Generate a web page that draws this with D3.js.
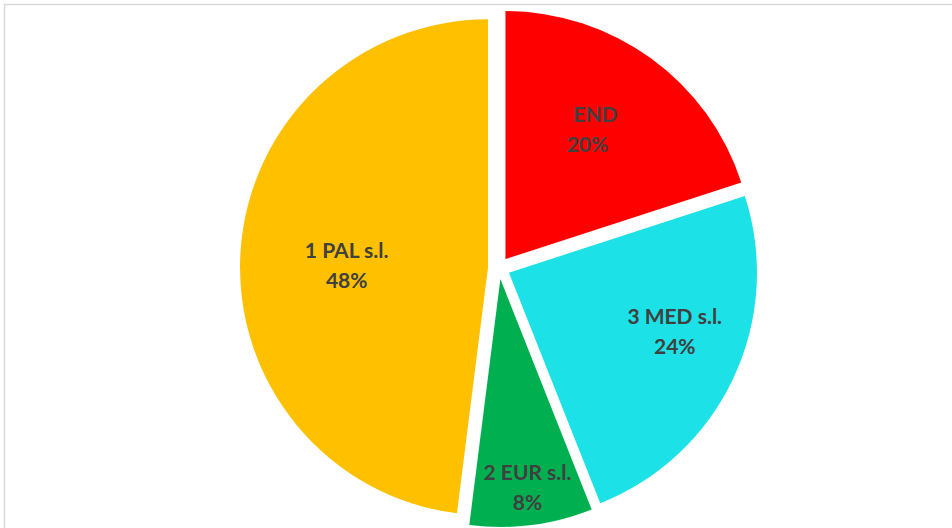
<!DOCTYPE html>
<html>
<head>
<meta charset="utf-8">
<script src="https://cdn.jsdelivr.net/npm/d3@7"></script>
<style>
  html, body { margin: 0; padding: 0; background: #ffffff; }
  svg { display: block; }
</style>
</head>
<body>
<svg id="chart" width="952" height="528"></svg>
<script>
// Slice data, clockwise from 12 o'clock
const categories = ["END", "3 MED s.l.", "2 EUR s.l.", "1 PAL s.l."];
const shares = [20, 24, 8, 48];
const colors = ["#FF0000", "#1CE1E6", "#00B050", "#FFC000"];

const width = 952, height = 528;
const cx = 499, cy = 268, radius = 248;
const explode = 11;

// label placement: angle offset from the slice bisector (deg), radius fraction,
// and horizontal nudge of the name line
const labelPlacement = [
  { dAngle: -3.5, frac: 0.615, nameDx: 8 },
  { dAngle: -5.5, frac: 0.71, nameDx: 0 },
  { dAngle: -0.2, frac: 0.85, nameDx: 0 },
  { dAngle: -3.2, frac: 0.57, nameDx: 0 }
];

const svg = d3.select("#chart");

// chart area frame
svg.append("rect")
  .attr("x", 4.5).attr("y", 4.5)
  .attr("width", width + 10).attr("height", height + 10)
  .attr("fill", "#ffffff")
  .attr("stroke", "#d9d9d9")
  .attr("stroke-width", 1.5);

const data = categories.map((c, i) => ({ name: c, value: shares[i], color: colors[i], idx: i }));

const pie = d3.pie().value(d => d.value).sort(null);
const arc = d3.arc().innerRadius(0).outerRadius(radius);
const arcs = pie(data);

const g = svg.append("g").attr("transform", `translate(${cx},${cy})`);

const slices = g.selectAll("g.slice")
  .data(arcs)
  .join("g")
  .attr("class", "slice")
  .attr("transform", d => {
    const mid = (d.startAngle + d.endAngle) / 2;
    return `translate(${explode * Math.sin(mid)},${-explode * Math.cos(mid)})`;
  });

slices.append("path")
  .attr("d", arc)
  .attr("fill", d => d.data.color);

const labels = slices.append("text")
  .attr("text-anchor", "middle")
  .attr("fill", "#404040")
  .style("font-family", "Lato, 'Open Sans', sans-serif")
  .style("font-weight", "bold")
  .style("font-size", "21px")
  .attr("transform", d => {
    const p = labelPlacement[d.data.idx];
    const mid = (d.startAngle + d.endAngle) / 2 + p.dAngle * Math.PI / 180;
    const rr = radius * p.frac;
    return `translate(${rr * Math.sin(mid)},${-rr * Math.cos(mid)})`;
  });

labels.append("tspan")
  .attr("x", d => labelPlacement[d.data.idx].nameDx).attr("y", -8)
  .text(d => d.data.name);
labels.append("tspan")
  .attr("x", 0).attr("y", 22)
  .text(d => d.data.value + "%");
</script>
</body>
</html>
